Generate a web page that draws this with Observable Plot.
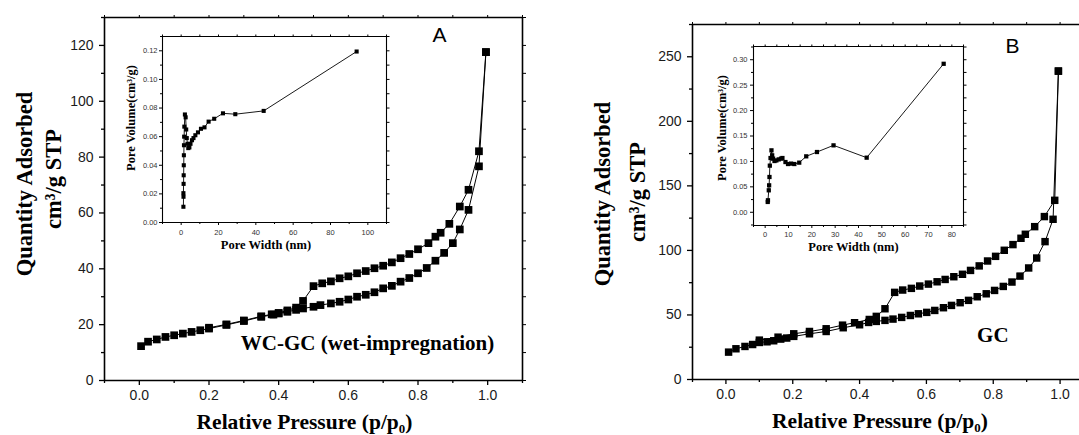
<!DOCTYPE html>
<html><head><meta charset="utf-8">
<script src="https://cdn.jsdelivr.net/npm/d3@7"></script>
<script src="https://cdn.jsdelivr.net/npm/@observablehq/plot@0.6"></script>
<style>
html,body{margin:0;padding:0;background:#fff;overflow:hidden;width:1079px;height:435px;}
#root{position:relative;width:1079px;height:435px;overflow:hidden;background:#fff;}
#root svg{position:absolute;top:0;max-width:none;}
</style></head><body><div id="root"></div>
<script>
// ---------- Panel A (WC-GC) isotherm ----------
const adsA_P = [0.005,0.025,0.05,0.075,0.1,0.125,0.15,0.175,0.2,0.25,0.3,0.35,0.385,0.4,0.425,0.45,0.47,0.5,0.52,0.55,0.575,0.6,0.625,0.65,0.675,0.7,0.725,0.75,0.775,0.8,0.825,0.85,0.875,0.9,0.92,0.945,0.975,0.995];
const adsA_Q = [12.3,13.9,14.7,15.6,16.2,16.8,17.4,18.0,18.6,19.9,21.3,22.8,23.6,24.0,24.6,25.3,25.8,26.4,27.0,27.6,28.2,29.0,30.0,30.7,31.6,33.0,33.9,35.4,36.7,38.4,40.3,42.9,45.7,49.2,54.1,61.1,76.7,117.6];
const desA_P = [0.995,0.975,0.945,0.92,0.89,0.865,0.85,0.83,0.8,0.775,0.75,0.725,0.7,0.675,0.65,0.625,0.6,0.575,0.55,0.525,0.5,0.47,0.45,0.425,0.4,0.38,0.35,0.3,0.25,0.2];
const desA_Q = [117.6,82.1,68.3,62.3,56.1,52.9,51.5,49.2,47.0,45.3,43.8,42.3,41.1,40.2,39.2,38.4,37.3,36.6,35.5,34.8,33.8,28.5,26.1,25.1,24.2,23.7,23.0,21.5,20.1,18.9];
// Panel A inset: pore size distribution
const psdA_W = [1.2,1.25,1.2,1.3,1.35,1.4,1.45,1.5,1.6,1.7,2.0,2.4,2.7,3.0,3.4,3.8,4.4,5.0,5.8,6.6,7.6,9.0,10.6,12.5,14.7,17.7,22.4,29,44.2,94];
const psdA_V = [0.011,0.018,0.0205,0.027,0.033,0.040,0.047,0.054,0.060,0.067,0.0755,0.0735,0.065,0.059,0.055,0.052,0.0525,0.055,0.0575,0.059,0.061,0.063,0.0655,0.0665,0.0705,0.0725,0.0763,0.0757,0.078,0.1195];

// ---------- Panel B (GC) isotherm ----------
const adsB_P = [0.008,0.03,0.057,0.08,0.1,0.123,0.143,0.164,0.182,0.203,0.25,0.3,0.351,0.4,0.427,0.45,0.476,0.5,0.526,0.552,0.576,0.601,0.625,0.651,0.675,0.701,0.726,0.752,0.779,0.804,0.83,0.856,0.88,0.906,0.93,0.955,0.979,0.995];
const adsB_Q = [21.2,23.8,25.6,27.1,28.7,29.2,30.0,31.3,32.1,33.4,35.4,37.2,40.1,42.4,44.2,45.0,45.8,46.8,48.1,49.6,50.9,52.0,53.5,55.6,57.4,59.5,61.3,64.1,66.4,69.0,72.1,75.5,80.1,86.4,94.1,106.8,124.1,238.9];
const desB_P = [0.995,0.984,0.953,0.924,0.896,0.883,0.859,0.833,0.807,0.783,0.758,0.732,0.708,0.682,0.656,0.632,0.606,0.58,0.555,0.529,0.505,0.476,0.45,0.429,0.385,0.349,0.3,0.25,0.203,0.156,0.1];
const desB_Q = [238.9,138.8,126.2,118.4,112.5,109.4,104.5,100.1,95.4,91.8,88.0,84.5,81.5,79.6,77.5,75.7,73.9,72.4,70.6,69.3,67.5,54.8,48.9,46.5,44.0,42.1,39.3,37.2,35.4,32.8,30.5];
// Panel B inset
const psdB_W = [1.1,1.2,1.55,1.7,1.85,2.0,2.3,2.7,3.0,3.4,4.0,4.8,5.8,6.8,7.4,8.7,9.8,11.1,12.5,14.6,17.6,22.2,29.3,43.5,76.5];
const psdB_V = [0.0203,0.0236,0.0432,0.053,0.0694,0.0917,0.1067,0.1218,0.112,0.1055,0.1008,0.102,0.104,0.1055,0.1067,0.0988,0.0949,0.0957,0.0949,0.0976,0.110,0.1185,0.1316,0.1074,0.292];

// ---------- axis domains and ticks ----------
const xDomain = [-0.1, 1.1];
const yDomainA = [0, 130];
const yDomainB = [0, 275];
const inAxDomain = [-10, 110];
const inAyDomain = [0, 0.13];
const inBxDomain = [-5, 85];
const inByDomain = [-0.026, 0.326];
const xMajor = [0,0.2,0.4,0.6,0.8,1.0];
const xMinor = [-0.1,0.1,0.3,0.5,0.7,0.9,1.1];
const yMajorA = [0,20,40,60,80,100,120];
const yMinorA = [10,30,50,70,90,110,130];
const yMajorB = [0,50,100,150,200,250];
const yMinorB = [25,75,125,175,225,275];
const inAxMajor = [0,20,40,60,80,100];
const inAxMinor = [-10,10,30,50,70,90,110];
const inAyMajor = [0,0.02,0.04,0.06,0.08,0.10,0.12];
const inAyMinor = [0.01,0.03,0.05,0.07,0.09,0.11,0.13];
const inBxMajor = [0,10,20,30,40,50,60,70,80];
const inBxMinor = [-5,5,15,25,35,45,55,65,75,85];
const inByMajor = [0,0.05,0.10,0.15,0.20,0.25,0.30];
const inByMinor = [-0.025,0.025,0.075,0.125,0.175,0.225,0.275,0.325];

const serif = '"Liberation Serif","Times New Roman",Times,serif';
const sans = '"Liberation Sans",Arial,Helvetica,sans-serif';
const rows = (xs, ys) => xs.map((x, i) => ({x, y: ys[i]}));
const blank = () => "";

function axes(o) {
  return [
    Plot.axisX({ticks:o.xMajor, tickSize:o.ts, tickPadding:o.xpad, tickFormat:o.xfmt, fontSize:o.fs, fontFamily:sans, fill:o.tc, label:null, strokeWidth:o.tw}),
    Plot.axisX({ticks:o.xMinor, tickSize:o.ts2, tickFormat:blank, label:null, strokeWidth:o.tw}),
    Plot.axisX({anchor:"top", ticks:o.xMajor, tickSize:o.tt, tickFormat:blank, label:null}),
    Plot.axisX({anchor:"top", ticks:o.xMinor, tickSize:o.tt, tickFormat:blank, label:null}),
    Plot.axisY({ticks:o.yMajor, tickSize:o.ts, tickPadding:o.ypad, tickFormat:o.yfmt, fontSize:o.fs, fontFamily:sans, fill:o.tc, label:null, strokeWidth:o.tw}),
    Plot.axisY({ticks:o.yMinor, tickSize:o.ts2, tickFormat:blank, label:null, strokeWidth:o.tw}),
    Plot.axisY({anchor:"right", ticks:o.yMajor, tickSize:o.tt, tickFormat:blank, label:null}),
    Plot.axisY({anchor:"right", ticks:o.yMinor, tickSize:o.tt, tickFormat:blank, label:null}),
    Plot.ruleX(o.xDom, {stroke:"black", strokeWidth:o.sw}),
    Plot.ruleY(o.yDom, {stroke:"black", strokeWidth:o.sw})
  ];
}
function label(t, o) {
  return Plot.text([t], Object.assign({text:d=>d, textAnchor:"middle", lineAnchor:"middle", fill:"black"}, o));
}
function place(svg, left) {
  svg.style.left = left + "px";
  document.getElementById("root").appendChild(svg);
}
const fmt1 = d => d.toFixed(1);
const fmt2 = d => d.toFixed(2);
const fmt0 = d => String(d);

// ---------- Main A ----------
const mainA = Plot.plot({
  width:540, height:435, marginLeft:104, marginRight:18, marginTop:17, marginBottom:55,
  style:{background:"transparent", color:"black"},
  x:{domain:xDomain}, y:{domain:yDomainA},
  marks:[
    ...axes({xMajor, xMinor, yMajor:yMajorA, yMinor:yMinorA, xDom:xDomain, yDom:yDomainA, sw:1.6, tw:1.3, ts:5, ts2:3, tt:3, xpad:5, ypad:6, xfmt:fmt1, yfmt:fmt0, fs:14, tc:"#1a1a1a"}),
    Plot.line(rows(adsA_P, adsA_Q), {x:"x", y:"y", stroke:"black", strokeWidth:1}),
    Plot.line(rows(desA_P, desA_Q), {x:"x", y:"y", stroke:"black", strokeWidth:1}),
    Plot.dot(rows(adsA_P, adsA_Q), {x:"x", y:"y", symbol:"square", r:4.35, fill:"black", stroke:"none"}),
    Plot.dot(rows(desA_P, desA_Q), {x:"x", y:"y", symbol:"square", r:4.35, fill:"black", stroke:"none"}),
    label("Quantity Adsorbed", {frameAnchor:"left", dx:-79.7, dy:-15, rotate:-90, fontSize:22.5, fontWeight:"bold", fontFamily:serif}),
    label("cm\u00B3/g STP", {frameAnchor:"left", dx:-51.1, dy:-20, rotate:-90, fontSize:22.5, fontWeight:"bold", fontFamily:serif}),
    label("Relative Pressure (p/p\u2080)", {frameAnchor:"bottom", dx:-9, dy:42, fontSize:21.5, fontWeight:"bold", fontFamily:serif}),
    label("A", {frameAnchor:"top-left", dx:335, dy:18, fontSize:21, fontFamily:sans}),
    label("WC-GC (wet-impregnation)", {frameAnchor:"bottom-left", dx:263, dy:-37, fontSize:21, fontWeight:"bold", fontFamily:serif})
  ]
});
place(mainA, 0);

// ---------- Inset A ----------
const insetA = Plot.plot({
  width:540, height:435, marginLeft:162, marginRight:154, marginTop:36, marginBottom:213,
  style:{background:"transparent", color:"black"},
  x:{domain:inAxDomain}, y:{domain:inAyDomain},
  marks:[
    ...axes({xMajor:inAxMajor, xMinor:inAxMinor, yMajor:inAyMajor, yMinor:inAyMinor, xDom:inAxDomain, yDom:inAyDomain, sw:1.1, tw:1, ts:3, ts2:2, tt:2.5, xpad:4, ypad:2, xfmt:fmt0, yfmt:fmt2, fs:7.5, tc:"#333"}),
    Plot.line(rows(psdA_W, psdA_V), {x:"x", y:"y", stroke:"black", strokeWidth:0.9}),
    Plot.dot(rows(psdA_W, psdA_V), {x:"x", y:"y", symbol:"square", r:2.3, fill:"black", stroke:"none"}),
    label("Pore Volume(cm\u00B3/g)", {frameAnchor:"left", dx:-31.8, dy:-11.5, rotate:-90, fontSize:12.5, fontWeight:"bold", fontFamily:serif}),
    label("Pore Width (nm)", {frameAnchor:"bottom", dx:-8.5, dy:22.2, fontSize:12.5, fontWeight:"bold", fontFamily:serif})
  ]
});
place(insetA, 0);

// ---------- Main B ----------
const mainB = Plot.plot({
  width:570, height:435, marginLeft:152, marginRight:17, marginTop:24, marginBottom:56,
  style:{background:"transparent", color:"black"},
  x:{domain:xDomain}, y:{domain:yDomainB},
  marks:[
    ...axes({xMajor, xMinor, yMajor:yMajorB, yMinor:yMinorB, xDom:xDomain, yDom:yDomainB, sw:1.6, tw:1.3, ts:5, ts2:3, tt:3, xpad:5, ypad:6, xfmt:fmt1, yfmt:fmt0, fs:14, tc:"#1a1a1a"}),
    Plot.line(rows(adsB_P, adsB_Q), {x:"x", y:"y", stroke:"black", strokeWidth:1}),
    Plot.line(rows(desB_P, desB_Q), {x:"x", y:"y", stroke:"black", strokeWidth:1}),
    Plot.dot(rows(adsB_P, adsB_Q), {x:"x", y:"y", symbol:"square", r:4.2, fill:"black", stroke:"none"}),
    Plot.dot(rows(desB_P, desB_Q), {x:"x", y:"y", symbol:"square", r:4.2, fill:"black", stroke:"none"}),
    label("Quantity Adsorbed", {frameAnchor:"left", dx:-89.3, dy:-8, rotate:-90, fontSize:22.5, fontWeight:"bold", fontFamily:serif}),
    label("cm\u00B3/g STP", {frameAnchor:"left", dx:-55.2, dy:-10, rotate:-90, fontSize:22.5, fontWeight:"bold", fontFamily:serif}),
    label("Relative Pressure (p/p\u2080)", {frameAnchor:"bottom", dx:-13, dy:42, fontSize:21.5, fontWeight:"bold", fontFamily:serif}),
    label("B", {frameAnchor:"top-left", dx:320, dy:21.7, fontSize:21, fontFamily:sans}),
    label("GC", {frameAnchor:"bottom-left", dx:300.3, dy:-44.3, fontSize:21, fontWeight:"bold", fontFamily:serif})
  ]
});
place(mainB, 540);

// ---------- Inset B ----------
const insetB = Plot.plot({
  width:539, height:435, marginLeft:213, marginRight:116, marginTop:46, marginBottom:210,
  style:{background:"transparent", color:"black"},
  x:{domain:inBxDomain}, y:{domain:inByDomain},
  marks:[
    ...axes({xMajor:inBxMajor, xMinor:inBxMinor, yMajor:inByMajor, yMinor:inByMinor, xDom:inBxDomain, yDom:inByDomain, sw:1.1, tw:1, ts:3, ts2:2, tt:2.5, xpad:3, ypad:3, xfmt:fmt0, yfmt:fmt2, fs:7.5, tc:"#333"}),
    Plot.line(rows(psdB_W, psdB_V), {x:"x", y:"y", stroke:"black", strokeWidth:0.9}),
    Plot.dot(rows(psdB_W, psdB_V), {x:"x", y:"y", symbol:"square", r:2.4, fill:"black", stroke:"none"}),
    label("Pore Volume(cm\u00B3/g)", {frameAnchor:"left", dx:-32, dy:-8, rotate:-90, fontSize:12.5, fontWeight:"bold", fontFamily:serif}),
    label("Pore Width (nm)", {frameAnchor:"bottom", dx:-5, dy:21.5, fontSize:12.5, fontWeight:"bold", fontFamily:serif})
  ]
});
place(insetB, 540);
</script></body></html>
